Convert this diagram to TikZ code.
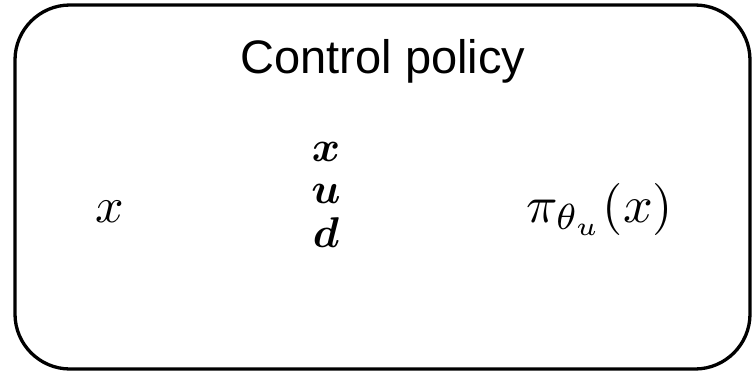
\documentclass[tikz,border=0pt]{standalone}
\usepackage{amsmath}
\usepackage{fontspec}
\setmainfont{Liberation Sans}
\begin{document}
\begin{tikzpicture}[x=1pt,y=-1pt,
  frame/.style={draw=black,line width=3.3pt,rounded corners=55pt},
  mathlbl/.style={inner sep=0pt,anchor=base},
  stacklbl/.style={inner sep=0pt,anchor=base}]
\useasboundingbox (0,0) rectangle (753,372);
\draw[frame] (15,5) rectangle (750,369);
\node[inner sep=0pt,anchor=base,font=\fontsize{47}{54}\selectfont] (title) at (383,73) {Control policy};
\node[mathlbl] (xin) at (110,222) {\scalebox{5}{$x$}};
\node[stacklbl] (sx) at (326,161) {\scalebox{4.3}{$\boldsymbol{x}$}};
\node[stacklbl] (su) at (326,203) {\scalebox{4.3}{$\boldsymbol{u}$}};
\node[stacklbl] (sd) at (326,247) {\scalebox{4.3}{$\boldsymbol{d}$}};
\node[mathlbl,anchor=base west] (pi) at (526,222) {\scalebox{5.2}{$\pi_{\theta_u}(x)$}};
\end{tikzpicture}
\end{document}
